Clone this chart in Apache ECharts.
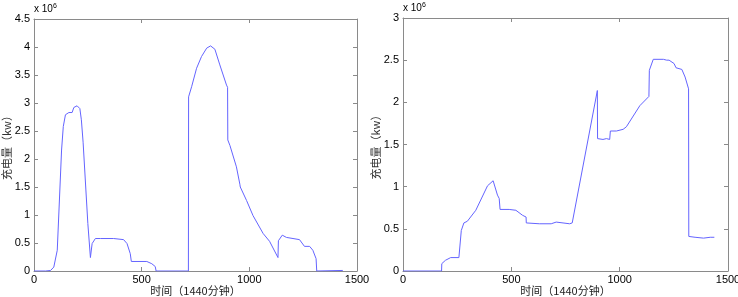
<!DOCTYPE html>
<html><head><meta charset="utf-8">
<script src="https://cdn.jsdelivr.net/npm/echarts@6/dist/echarts.min.js"></script>
<style>html,body{margin:0;padding:0;background:#fff}#c{width:738px;height:297px}</style>
</head><body><div id="c"></div>
<script>
// Left chart: time (min) and charging amount (x 10^6 kW)
var leftTime = [0, 54, 77, 92, 108, 128, 136, 146, 162, 177, 185, 200, 213, 220, 228, 250, 262, 270, 285, 308, 370, 416, 432, 447, 452, 524, 547, 563, 567, 717, 718, 732, 755, 778, 802, 820, 840, 863, 894, 899, 900, 910, 940, 956, 958, 987, 1017, 1064, 1094, 1133, 1135, 1153, 1172, 1233, 1256, 1280, 1295, 1310, 1313, 1434];
var leftValue = [0, 0, 0.01, 0.07, 0.37, 2.16, 2.58, 2.79, 2.83, 2.83, 2.92, 2.95, 2.90, 2.70, 2.30, 0.85, 0.24, 0.49, 0.58, 0.58, 0.58, 0.56, 0.49, 0.31, 0.17, 0.17, 0.13, 0.08, 0, 0, 3.11, 3.29, 3.62, 3.83, 3.98, 4.02, 3.96, 3.68, 3.32, 3.28, 2.34, 2.24, 1.86, 1.55, 1.50, 1.26, 0.99, 0.67, 0.53, 0.24, 0.54, 0.64, 0.60, 0.56, 0.44, 0.44, 0.37, 0.22, 0, 0.01];
// Right chart
var rightTime = [0, 178, 179, 196, 220, 258, 266, 269, 281, 297, 336, 390, 416, 436, 444, 448, 490, 521, 552, 568, 569, 629, 684, 707, 769, 781, 897, 898, 923, 939, 954, 957, 985, 1016, 1031, 1093, 1135, 1137, 1155, 1202, 1217, 1228, 1251, 1260, 1287, 1302, 1318, 1319, 1348, 1387, 1418, 1437];
var rightValue = [0, 0, 0.087, 0.127, 0.159, 0.159, 0.165, 0.48, 0.57, 0.59, 0.72, 1.01, 1.07, 0.90, 0.86, 0.73, 0.73, 0.72, 0.66, 0.64, 0.57, 0.56, 0.56, 0.58, 0.56, 0.57, 2.14, 1.57, 1.56, 1.57, 1.56, 1.66, 1.66, 1.68, 1.71, 1.96, 2.07, 2.38, 2.51, 2.51, 2.50, 2.50, 2.46, 2.41, 2.39, 2.30, 2.16, 0.41, 0.40, 0.39, 0.40, 0.40];
var xTicks = [0, 500, 1000, 1500];
var yTitle = '充电量（kw）';
var xTitle = '时间（1440分钟）';
var exponentLabel = 'x 10';

function zip(a, b) { return a.map(function (t, i) { return [t, b[i]]; }); }

var axisColor = '#8a8a8a';
var lblStyle = { color: '#000', fontSize: 11, fontFamily: 'Liberation Sans, Arial, sans-serif' };
var cjk = 'Noto Sans CJK SC, sans-serif';

function xAx(gi, pos, show) {
  return {
    type: 'value', gridIndex: gi, position: pos, min: 0, max: 1500, interval: 500,
    axisLine: { show: true, onZero: false, lineStyle: { color: axisColor, width: 1 } },
    axisTick: { show: true, inside: true, length: 4, lineStyle: { color: axisColor } },
    axisLabel: show ? Object.assign({ margin: 3, formatter: function (v) { return xTicks.indexOf(v) >= 0 ? String(v) : ''; } }, lblStyle) : { show: false },
    splitLine: { show: false },
    name: show ? xTitle : '', nameLocation: 'middle', nameGap: 14, nameMoveOverlap: false,
    nameTextStyle: { color: '#222', fontSize: 11, fontFamily: cjk }
  };
}
function yAx(gi, pos, show, max) {
  return {
    type: 'value', gridIndex: gi, position: pos, min: 0, max: max, interval: 0.5,
    axisLine: { show: true, onZero: false, lineStyle: { color: axisColor, width: 1 } },
    axisTick: { show: true, inside: true, length: 4, lineStyle: { color: axisColor } },
    axisLabel: show ? Object.assign({ margin: 4 }, lblStyle) : { show: false },
    splitLine: { show: false },
    name: show ? yTitle : '', nameLocation: 'middle', nameGap: 22, nameRotate: 90, nameMoveOverlap: false,
    nameTextStyle: { color: '#333', fontSize: 11, fontFamily: cjk }
  };
}

var chart = echarts.init(document.getElementById('c'));
chart.setOption({
  animation: false,
  backgroundColor: '#fff',
  grid: [
    { left: 34, width: 323, top: 19, bottom: 26, containLabel: false, outerBoundsMode: 'none' },
    { left: 403, width: 325, top: 18, bottom: 26, containLabel: false, outerBoundsMode: 'none' }
  ],
  xAxis: [xAx(0, 'bottom', true), xAx(0, 'top', false), xAx(1, 'bottom', true), xAx(1, 'top', false)],
  yAxis: [yAx(0, 'left', true, 4.5), yAx(0, 'right', false, 4.5), yAx(1, 'left', true, 3), yAx(1, 'right', false, 3)],
  graphic: [
    { type: 'text', left: 34, top: 3, style: { rich: { b: { fontSize: 10, fill: '#000', fontFamily: 'Liberation Sans, Arial' }, s: { fontSize: 7, fill: '#000', verticalAlign: 'top', padding: [0, 0, 6, 0] } }, text: '{b|' + exponentLabel + '}{s|6}' } },
    { type: 'text', left: 403, top: 2, style: { rich: { b: { fontSize: 10, fill: '#000', fontFamily: 'Liberation Sans, Arial' }, s: { fontSize: 7, fill: '#000', verticalAlign: 'top', padding: [0, 0, 6, 0] } }, text: '{b|' + exponentLabel + '}{s|6}' } }
  ],
  series: [
    { type: 'line', xAxisIndex: 0, yAxisIndex: 0, data: zip(leftTime, leftValue), showSymbol: false, lineStyle: { color: '#6464ff', width: 1 }, itemStyle: { color: '#6464ff' } },
    { type: 'line', xAxisIndex: 2, yAxisIndex: 2, data: zip(rightTime, rightValue), showSymbol: false, lineStyle: { color: '#6464ff', width: 1 }, itemStyle: { color: '#6464ff' } }
  ]
});
</script></body></html>
